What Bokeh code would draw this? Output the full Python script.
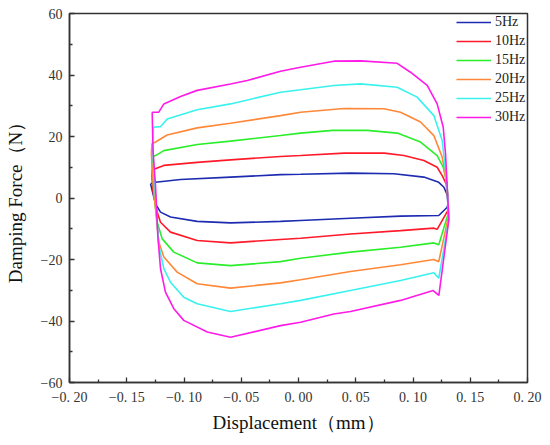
from bokeh.plotting import figure
from bokeh.models import Range1d, FixedTicker
from bokeh.embed import file_html
from bokeh.resources import INLINE

# ---- data: hysteresis loops (displacement mm, damping force N) ----
X_5HZ = [-0.1292, -0.1249, -0.103, -0.0594, -0.0157, 0.0018, 0.0454, 0.0833, 0.1095, 0.1225, 0.1270, 0.1299,
         0.1305, 0.1299, 0.1225, 0.0891, 0.0454, 0.0018, -0.0157, -0.0594, -0.0885, -0.1118, -0.1205, -0.1249, -0.1275, -0.1292]
F_5HZ = [4.6, 5.1, 6.0, 6.8, 7.6, 7.7, 8.1, 7.9, 6.8, 5.1, 3.5, 1.0,
         -2.0, -3.0, -5.7, -5.9, -6.6, -7.3, -7.6, -8.1, -7.6, -6.2, -4.6, -1.9, 2.0, 4.6]

X_10HZ = [-0.1280, -0.1278, -0.1250, -0.1176, -0.0885, -0.0594, -0.0157, 0.0018, 0.0400, 0.0750, 0.0920, 0.1095, 0.1211, 0.1255, 0.1290, 0.1305,
          0.1305, 0.1211, 0.1182, 0.0891, 0.0454, 0.0018, -0.0157, -0.0594, -0.0885, -0.1118, -0.1205, -0.1234, -0.1270, -0.1280]
F_10HZ = [6.7, 9.0, 9.5, 10.6, 11.6, 12.4, 13.5, 13.8, 14.6, 14.6, 13.8, 12.2, 10.0, 7.3, 4.6, 0.0,
          -4.0, -10.2, -9.8, -10.6, -11.7, -13.1, -13.5, -14.6, -13.8, -11.1, -7.9, -4.6, 2.0, 6.7]

X_15HZ = [-0.1280, -0.1265, -0.1249, -0.1176, -0.0885, -0.0594, -0.0157, 0.0018, 0.0300, 0.0600, 0.0862, 0.1066, 0.1211, 0.1264, 0.1295, 0.1305,
          0.1308, 0.1225, 0.1182, 0.0891, 0.0454, 0.0018, -0.0157, -0.0594, -0.0885, -0.1089, -0.1190, -0.1234, -0.1258, -0.1280]
F_15HZ = [11.0, 13.6, 13.8, 15.4, 17.4, 18.5, 20.3, 21.1, 22.0, 22.0, 21.1, 18.2, 13.8, 10.0, 5.0, 0.0,
          -5.0, -15.2, -14.6, -16.0, -17.6, -19.6, -20.7, -22.0, -21.1, -17.6, -13.3, -7.9, -0.3, 11.0]

X_20HZ = [-0.1285, -0.1280, -0.1249, -0.1147, -0.0885, -0.0594, -0.0157, 0.0018, 0.0396, 0.0746, 0.0891, 0.1066, 0.1182, 0.1255, 0.1290, 0.1305,
          0.1310, 0.1225, 0.1182, 0.0891, 0.0454, 0.0018, -0.0157, -0.0594, -0.0885, -0.1060, -0.1176, -0.1220, -0.1240, -0.1270, -0.1285]
F_20HZ = [14.5, 17.6, 18.2, 20.5, 22.8, 24.3, 26.8, 27.9, 29.1, 29.0, 27.9, 24.7, 20.3, 13.3, 5.7, 0.0,
          -6.0, -20.7, -20.0, -21.7, -23.9, -26.6, -27.6, -29.3, -27.9, -24.1, -19.2, -14.4, -6.8, 5.0, 14.5]

X_25HZ = [-0.1275, -0.1270, -0.1205, -0.1147, -0.0885, -0.0594, -0.0157, 0.0018, 0.0309, 0.0542, 0.0862, 0.1036, 0.1182, 0.1255, 0.1284, 0.1305,
          0.1313, 0.1225, 0.1182, 0.0891, 0.0454, 0.0018, -0.0157, -0.0594, -0.0885, -0.1002, -0.1118, -0.1176, -0.1220, -0.1240, -0.1265, -0.1275]
F_25HZ = [18.0, 23.0, 23.2, 25.7, 28.7, 30.6, 34.4, 35.2, 36.6, 37.1, 36.0, 32.8, 26.8, 18.7, 8.9, 0.0,
          -7.0, -26.1, -24.3, -26.8, -30.1, -33.3, -34.4, -36.9, -34.4, -32.3, -27.4, -23.0, -15.4, -4.6, 10.0, 18.0]

X_30HZ = [-0.1278, -0.1220, -0.1176, -0.1030, -0.0885, -0.0594, -0.0448, -0.0157, 0.0018, 0.0309, 0.0542, 0.0862, 0.0978, 0.1124, 0.1211, 0.1264, 0.1284, 0.1299,
          0.1313, 0.1226, 0.1176, 0.0891, 0.0454, 0.0309, 0.0018, -0.0157, -0.0594, -0.0797, -0.1002, -0.1089, -0.1162, -0.1205, -0.1229, -0.1249, -0.1270, -0.1278]
F_30HZ = [27.9, 27.9, 30.6, 33.0, 35.0, 37.1, 38.2, 41.2, 42.5, 44.5, 44.6, 43.8, 40.9, 36.6, 30.6, 23.0, 14.4, 3.5,
          -7.0, -31.7, -30.1, -33.3, -36.9, -37.7, -40.4, -41.5, -45.3, -43.6, -39.8, -36.0, -30.6, -23.0, -12.2, 4.1, 15.0, 27.9]

SERIES_NAMES = ["5Hz", "10Hz", "15Hz", "20Hz", "25Hz", "30Hz"]
SERIES_COLORS = ["#1c2bb0", "#ff1a2a", "#2aee2a", "#ff8838", "#38f2ee", "#ff1ae8"]

X_TICKS = [-0.20, -0.15, -0.10, -0.05, 0.00, 0.05, 0.10, 0.15, 0.20]
X_TICK_LABELS = ["−0. 20", "−0. 15", "−0. 10", "−0. 05", "0. 00", "0. 05", "0. 10", "0. 15", "0. 20"]
X_MINOR = [-0.175, -0.125, -0.075, -0.025, 0.025, 0.075, 0.125, 0.175]
Y_TICKS = [-60, -40, -20, 0, 20, 40, 60]
Y_TICK_LABELS = ["−60", "−40", "−20", "0", "20", "40", "60"]
Y_MINOR = [-50, -30, -10, 10, 30, 50]

X_TITLE = "Displacement（mm）"
Y_TITLE = "Damping Force（N）"

SERIF = "Liberation Serif"
AXIS_COL = "#333333"

FRAME_L, FRAME_R, FRAME_T, FRAME_B = 69, 527, 13, 382
W, H = 542, 437

p = figure(width=W, height=H, output_backend="svg", toolbar_location=None,
           x_range=Range1d(-0.20, 0.20), y_range=Range1d(-60, 60))
p.min_border_left = FRAME_L
p.min_border_right = W - FRAME_R
p.min_border_top = FRAME_T
p.min_border_bottom = H - FRAME_B
p.background_fill_color = "white"
p.border_fill_color = "white"
p.grid.visible = False
p.outline_line_color = AXIS_COL
p.outline_line_width = 1.5

xs_all = [X_5HZ, X_10HZ, X_15HZ, X_20HZ, X_25HZ, X_30HZ]
fs_all = [F_5HZ, F_10HZ, F_15HZ, F_20HZ, F_25HZ, F_30HZ]
for xs, fs, name, col in zip(xs_all, fs_all, SERIES_NAMES, SERIES_COLORS):
    p.line(xs, fs, line_color=col, line_width=1.6, legend_label=name)

for ax, ticks, minor, labels, title in ((p.xaxis[0], X_TICKS, X_MINOR, X_TICK_LABELS, X_TITLE),
                                        (p.yaxis[0], Y_TICKS, Y_MINOR, Y_TICK_LABELS, Y_TITLE)):
    ax.ticker = FixedTicker(ticks=ticks, minor_ticks=minor)
    ax.major_label_overrides = {t: l for t, l in zip(ticks, labels)}
    ax.axis_line_color = AXIS_COL
    ax.axis_line_width = 1.5
    ax.major_tick_line_color = AXIS_COL
    ax.minor_tick_line_color = AXIS_COL
    ax.major_tick_line_width = 1.3
    ax.minor_tick_line_width = 1.3
    ax.major_tick_in = 5
    ax.major_tick_out = 0
    ax.minor_tick_in = 3
    ax.minor_tick_out = 0
    ax.major_label_text_font = SERIF
    ax.major_label_text_font_size = "14px"
    ax.major_label_text_color = "#333333"
    ax.major_label_standoff = 7
    ax.axis_label = title
    ax.axis_label_text_font = SERIF
    ax.axis_label_text_font_size = "19px"
    ax.axis_label_text_font_style = "normal"
    ax.axis_label_text_color = "#111111"

p.xaxis[0].axis_label_standoff = 4
p.yaxis[0].axis_label_standoff = 12

lg = p.legend[0]
lg.location = "top_right"
lg.border_line_color = None
lg.background_fill_alpha = 0
lg.margin = 0
lg.padding = 3
lg.spacing = 1
lg.glyph_width = 35
lg.glyph_height = 18
lg.label_height = 18
lg.label_width = 32
lg.label_standoff = 4
lg.label_text_font = SERIF
lg.label_text_font_size = "14px"
lg.label_text_color = "#222222"

open("out.html", "w").write(file_html(p, INLINE))
